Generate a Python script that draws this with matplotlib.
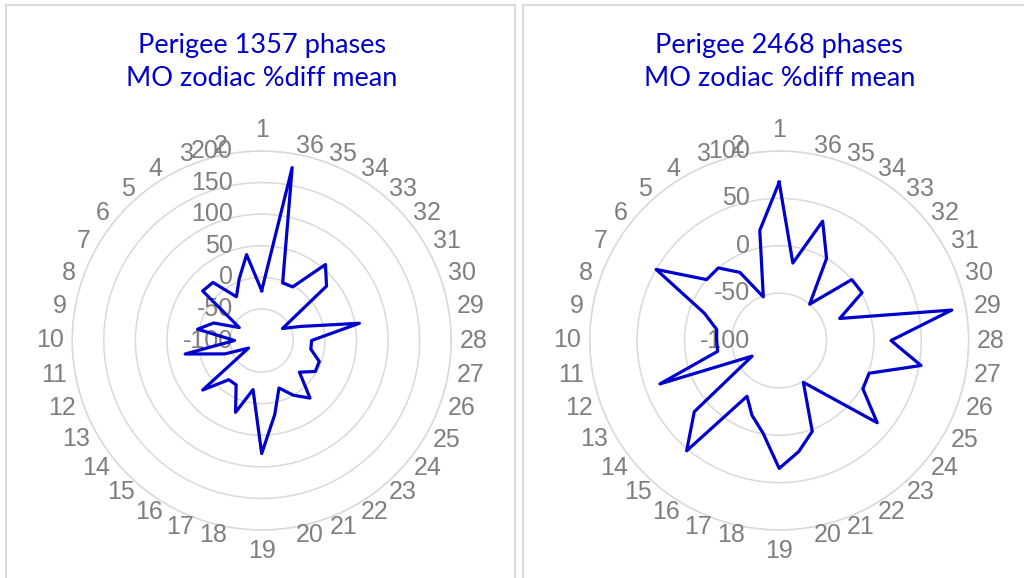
import numpy as np
import matplotlib
matplotlib.use('Agg')
import matplotlib.pyplot as plt
from matplotlib.lines import Line2D

# Data (36 zodiac sectors)
categories = [str(i) for i in range(1, 37)]

# Perigee 1357 phases, MO zodiac %diff mean
phases_1357 = [-21, 38, 4, -20, 20, 22, -59, -19, 3, -57,
               23, -38, -76, 22, -19, -19, 21, -21, 79, 19,
               -20, 0, 19, -22, -2, -3, -21, -21, 57, -35,
               -62, 34, 57, -2, -3, 178]

# Perigee 2468 phases, MO zodiac %diff mean
phases_2468 = [67, 18, -51, -17, 0, 0, 50, -16, -33, -34,
               -34, 34, -67, 17, 52, -32, -16, -1, 35, 19,
               2, -49, -27, 35, 2, 1, 52, 18, 85, -32,
               1, 0, -50, 0, 34, -17]

ticks_1357 = [-100, -50, 0, 50, 100, 150, 200]
ticks_2468 = [-100, -50, 0, 50, 100]

titles = [["Perigee 1357 phases", "MO zodiac %diff mean"],
          ["Perigee 2468 phases", "MO zodiac %diff mean"]]

W, H = 1024, 578
R = 189.5            # plot radius in pixels
LINE = '#0000CC'
GRID = '#d9d9d9'
TXT = '#7f7f7f'
LABEL_FONT = ['Liberation Sans', 'DejaVu Sans']
TITLE_FONT = ['Lato', 'DejaVu Sans']
LABEL_SIZE = 18
TITLE_SIZE = 19.5

fig = plt.figure(figsize=(W / 100, H / 100), dpi=100)


def px_line(x0, y0, x1, y1):
    fig.add_artist(Line2D([x0 / W, x1 / W], [1 - y0 / H, 1 - y1 / H],
                          transform=fig.transFigure, color=GRID, lw=1.5))


# panel frames (cut off at the bottom / right like the screenshot)
px_line(6, 5, 515, 5)
px_line(6, 5, 6, H)
px_line(515, 5, 515, H)
px_line(523, 5, W, 5)
px_line(523, 5, 523, H)


def radar(cx, cy, values, ticks, title):
    rect = [(cx - R) / W, (H - cy - R) / H, 2 * R / W, 2 * R / H]
    ax = fig.add_axes(rect, projection='polar')
    ax.set_theta_zero_location('N')
    ax.set_theta_direction(1)
    ax.set_ylim(ticks[0], ticks[-1])
    ax.set_yticks(ticks[1:])
    ax.set_yticklabels([])
    ax.set_xticks([])
    ax.yaxis.grid(True, color=GRID, lw=1.1)
    ax.spines['polar'].set_color(GRID)
    ax.spines['polar'].set_linewidth(1.1)

    theta = np.deg2rad(np.arange(len(categories)) * 10)
    th = np.append(theta, theta[0])
    vals = list(values) + [values[0]]
    ax.plot(th, vals, color=LINE, lw=2.3, zorder=5)

    # radial value labels beside the top spoke
    for v in ticks:
        ax.annotate(str(v), xy=(0, v), xytext=(-29, 0), textcoords='offset pixels',
                    ha='right', va='center', fontsize=LABEL_SIZE, color=TXT,
                    family=LABEL_FONT, annotation_clip=False)

    # category labels around the outside
    r_lab = ticks[0] + (ticks[-1] - ticks[0]) * 198 / R
    for t, lab in zip(theta, categories):
        s = np.sin(t)
        c = np.cos(t)
        if abs(s) < 0.05:
            ha = 'center'
            va = 'bottom' if c > 0 else 'top'
        else:
            ha = 'right' if s > 0 else 'left'
            va = 'center'
        ax.text(t, r_lab, lab, ha=ha, va=va, fontsize=LABEL_SIZE, color=TXT,
                family=LABEL_FONT, clip_on=False)

    fig.text(cx / W, 1 - 45 / H, title[0], ha='center', va='center',
             fontsize=TITLE_SIZE, color=LINE, family=TITLE_FONT)
    fig.text(cx / W, 1 - 79 / H, title[1], ha='center', va='center',
             fontsize=TITLE_SIZE, color=LINE, family=TITLE_FONT)
    return ax


radar(261.7, 340.5, phases_1357, ticks_1357, titles[0])
radar(779.2, 340.5, phases_2468, ticks_2468, titles[1])

fig.savefig('out.png', dpi=100)
